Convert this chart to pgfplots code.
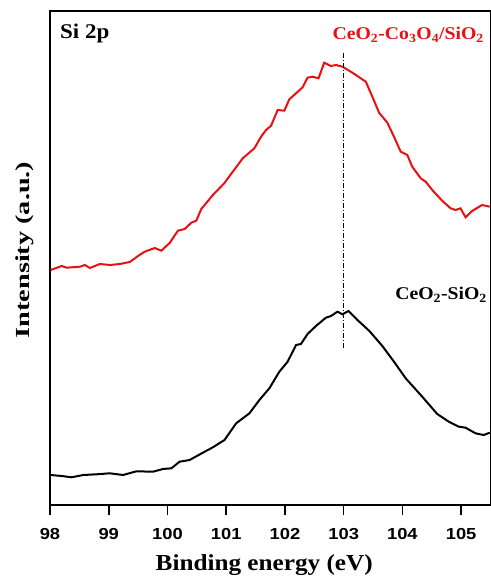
\documentclass[border=0pt]{standalone}
\usepackage{pgfplots}
\pgfplotsset{compat=1.18}
\usepackage{fontspec}
\setmainfont{Liberation Serif}
\setsansfont{Liberation Sans}
% the reference's lettering is a little wider than the plain faces
\newfontfamily\tickfont[FakeStretch=1.15]{Liberation Sans}
\newfontfamily\labfont[FakeStretch=1.1]{Liberation Serif}
\newfontfamily\ylabfont[FakeStretch=1.42]{Liberation Serif}
\definecolor{specred}{RGB}{232,16,16}

\begin{document}
\begin{tikzpicture}
\begin{axis}[
    scale only axis,
    width=440.5bp, height=494bp,
    xmin=98, xmax=105.5,
    ymin=74, ymax=568,
    axis line style={line width=1.4bp},
    xtick={98,99,...,105},
    xtick pos=bottom,
    tick align=outside,
    major tick length=10bp,
    every tick/.append style={line width=1.6bp, black},
    ytick=\empty,
    /pgf/number format/assume math mode=true,
    xticklabel style={font=\fontsize{16}{16}\selectfont\tickfont\bfseries, yshift=-10bp},
    xlabel={Binding energy (eV)},
    xlabel style={font=\fontsize{23}{23}\selectfont\labfont\bfseries, yshift=-8bp, xshift=-6bp},
    ylabel={Intensity (a.u.)},
    ylabel style={font=\fontsize{20}{20}\selectfont\ylabfont\bfseries, yshift=3bp, xshift=8bp},
    clip=false,
]
\coordinate (sw) at (rel axis cs:0,0);
\coordinate (ne) at (rel axis cs:1,1);

% CeO2-Co3O4/SiO2
\addplot[specred, line width=2bp] coordinates {
(98.012,309) (98.199,313) (98.284,311.3) (98.509,312.3) (98.594,314)
(98.679,311) (98.849,315) (99.019,314) (99.188,315) (99.358,317)
(99.499,323) (99.613,327.3) (99.783,331) (99.896,328.3) (100.037,336)
(100.178,348.3) (100.292,350) (100.406,356.3) (100.491,358.3) (100.576,370)
(100.773,384) (100.971,396) (101.112,407.3) (101.282,420.7) (101.480,430.7)
(101.594,442.3) (101.679,449) (101.764,453.3) (101.876,469) (101.990,468.3)
(102.075,479.7) (102.189,485.7) (102.301,491.7) (102.385,501.3) (102.470,502.3)
(102.572,500.7) (102.669,516.3) (102.783,513) (102.868,514) (102.980,512.3)
(103.149,506.3) (103.377,497.3) (103.489,482.3) (103.603,466.3) (103.744,456.3)
(103.857,442.3) (103.971,427.3) (104.083,424) (104.168,412.3) (104.311,400.7)
(104.396,397.3) (104.508,389) (104.677,378.3) (104.820,370.7) (104.905,369)
(104.990,370.7) (105.075,361.7) (105.187,368) (105.357,374) (105.487,372.3)
};

% CeO2-SiO2
\addplot[black, line width=2bp] coordinates {
(98.012,104) (98.199,103) (98.368,101.7) (98.565,104) (98.793,104.7)
(99.019,105.7) (99.244,104) (99.472,107.7) (99.754,107.3) (99.924,110)
(100.066,110.7) (100.207,117.3) (100.377,119) (100.603,126.3) (100.773,131.7)
(100.971,139) (101.170,155.7) (101.396,165.7) (101.565,179) (101.735,190.7)
(101.905,207.3) (102.046,217.3) (102.189,234) (102.273,235) (102.385,245)
(102.528,253) (102.698,261.3) (102.783,263) (102.895,267.3) (102.980,264.7)
(103.082,268) (103.234,259) (103.433,248.3) (103.659,233) (103.857,217.3)
(104.056,200.7) (104.338,182.3) (104.593,165) (104.791,157.3) (104.961,152.3)
(105.075,151.3) (105.245,145.7) (105.385,144) (105.487,146.3)
};

% peak marker
\addplot[black, line width=0.8bp, dash pattern=on 5bp off 2bp on 1bp off 2bp]
    coordinates {(103,526) (103,229)};

\node[anchor=base west, font=\fontsize{21}{21}\selectfont\labfont\bfseries, inner sep=0pt]
    at (axis cs:98.17,540) {Si 2p};
\node[anchor=base east, text=specred, font=\fontsize{18}{18}\selectfont\labfont\bfseries, inner sep=0pt]
    at (axis cs:105.39,539) {CeO\textsubscript{2}-Co\textsubscript{3}O\textsubscript{4}/SiO\textsubscript{2}};
\node[anchor=base east, font=\fontsize{18}{18}\selectfont\labfont\bfseries, inner sep=0pt]
    at (axis cs:105.44,279) {CeO\textsubscript{2}-SiO\textsubscript{2}};
\end{axis}
\pgfresetboundingbox
\path[use as bounding box] ([xshift=-50bp,yshift=-74bp]sw) rectangle ([xshift=0.5bp,yshift=11bp]ne);
\end{tikzpicture}
\end{document}
